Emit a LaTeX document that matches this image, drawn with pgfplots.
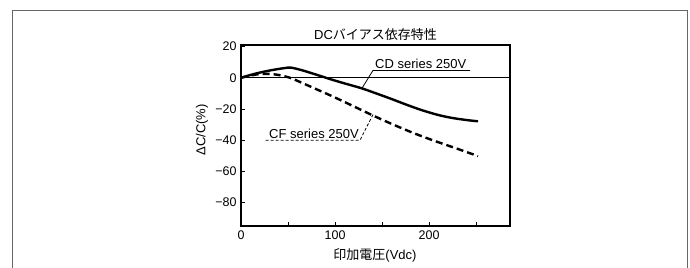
\documentclass[border=0pt]{standalone}
\usepackage{fontspec}
\setmainfont{Liberation Sans}
\newfontfamily\cjk{Noto Sans CJK JP}
\usepackage{pgfplots}
\pgfplotsset{compat=1.18}
\begin{document}
\fontsize{13bp}{15bp}\selectfont
\begin{tikzpicture}[x=1bp,y=1bp]
\path[use as bounding box] (0,0) rectangle (690,267);
\draw[color=black!60, line width=1.3bp] (12.5,-2) -- (12.5,256.5) -- (687.5,256.5) -- (687.5,-2);
\begin{axis}[name=ax, at={(241bp,41bp)}, anchor=south west, scale only axis,
  width=269bp, height=181bp, xmin=0, xmax=286, ymin=-95, ymax=21,
  axis line style={line width=1.3bp},
  xtick={0,50,...,250}, xticklabels={0,,100,,200,},
  ytick={-80,-60,-40,-20,0,20}, yticklabels={−80,−60,−40,−20,0,20},
  tick align=inside, tick pos=left, major tick length=4bp,
  tick style={line width=0.8bp, black},
  ticklabel style={font=\fontsize{12.5bp}{14bp}\selectfont},
  clip=false]
\draw[line width=0.8bp] (axis cs:0,0) -- (axis cs:286,0);
\addplot[black, line width=2.4bp, smooth, tension=0.5] coordinates {
(0,0)(15,2.6)(30,4.6)(45,6.1)(53,6.5)(65,4.8)(80,2.0)(95,-0.9)(110,-3.6)(128,-6.7)(145,-10.3)(160,-13.6)(177,-17.5)(193,-20.9)(210,-23.9)(225,-25.8)(240,-27.1)(252,-27.9)};
\addplot[black, line width=2.4bp, dash pattern=on 7bp off 4bp, smooth, tension=0.5] coordinates {
(0,0)(10,1.4)(20,2.4)(30,2.5)(40,1.8)(52,0)(65,-3.3)(80,-7.3)(95,-11.3)(110,-15.5)(125,-19.8)(140,-24.1)(155,-28.2)(170,-32.1)(185,-35.8)(200,-39.2)(215,-42.4)(230,-45.5)(252,-50.2)};
% annotations
\draw[line width=0.8bp] (axis cs:128.6,-6.7) -- (axis cs:140.3,4.7) -- (axis cs:243.5,4.7);
\node[anchor=base west, inner sep=0pt] at ([yshift=2bp]axis cs:142.5,4.7) {CD series 250V};
\draw[line width=0.8bp, dash pattern=on 3bp off 2bp] (axis cs:140.3,-23.6) -- (axis cs:126.5,-40) -- (axis cs:25.5,-40);
\node[anchor=base west, inner sep=0pt] at ([yshift=2bp]axis cs:29.8,-40) {CF series 250V};
\end{axis}
\node at (375.5,232.7) {DC{\cjk バイアス依存特性}};
\node at (375,11.3) {{\cjk 印加電圧}(Vdc)};
\node[rotate=90] at (202,137) {ΔC/C(\%)};
\end{tikzpicture}
\end{document}
